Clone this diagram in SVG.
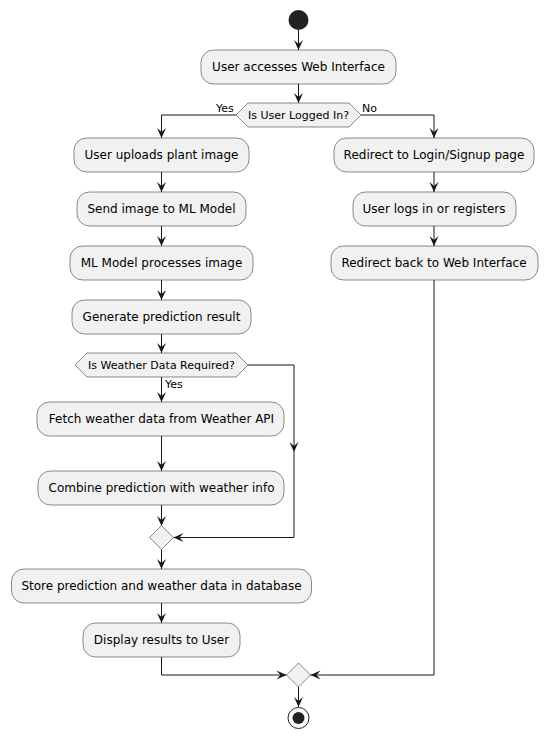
<svg xmlns="http://www.w3.org/2000/svg" width="548" height="739" viewBox="0 0 548 739">
<style>
.box{fill:#F1F1F1;stroke:#181818;stroke-width:0.5}
.t{font-family:"DejaVu Sans",sans-serif;font-size:12px;fill:#000;text-anchor:middle}
.s{font-family:"DejaVu Sans",sans-serif;font-size:11px;fill:#000}
.c{fill:none;stroke:#181818;stroke-width:1}
</style>
<defs>
<marker id="ah" viewBox="-11 -6 12 12" refX="0" refY="0" markerWidth="12" markerHeight="12" markerUnits="userSpaceOnUse" orient="auto">
<path d="M0,0 L-10,-4.5 L-6,0 L-10,4.5 Z" fill="#181818"/>
</marker>
</defs>
<rect width="548" height="739" fill="#FFFFFF"/>
<g id="connectors">
<path class="c" d="M298.5,30 V50" marker-end="url(#ah)"/>
<path class="c" d="M298.5,84 V103" marker-end="url(#ah)"/>
<path class="c" d="M236,115 H161.5 V138" marker-end="url(#ah)"/>
<path class="c" d="M361,115 H434 V138" marker-end="url(#ah)"/>
<path class="c" d="M161.5,172 V192" marker-end="url(#ah)"/>
<path class="c" d="M161.5,226 V246" marker-end="url(#ah)"/>
<path class="c" d="M161.5,280 V300" marker-end="url(#ah)"/>
<path class="c" d="M161.5,334 V353" marker-end="url(#ah)"/>
<path class="c" d="M161.5,377 V402" marker-end="url(#ah)"/>
<path class="c" d="M161.5,436 V471" marker-end="url(#ah)"/>
<path class="c" d="M161.5,505 V526" marker-end="url(#ah)"/>
<path class="c" d="M248,365 H294 V452" marker-end="url(#ah)"/>
<path class="c" d="M294,452 V537.5 H173.5" marker-end="url(#ah)"/>
<path class="c" d="M161.5,549.5 V569" marker-end="url(#ah)"/>
<path class="c" d="M161.5,603 V623" marker-end="url(#ah)"/>
<path class="c" d="M161.5,657 V675 H286.5" marker-end="url(#ah)"/>
<path class="c" d="M434,172 V192" marker-end="url(#ah)"/>
<path class="c" d="M434,226 V246" marker-end="url(#ah)"/>
<path class="c" d="M434,280 V675 H310.5" marker-end="url(#ah)"/>
<path class="c" d="M298.5,687 V707" marker-end="url(#ah)"/>
<text class="s" x="216" y="112">Yes</text>
<text class="s" x="362" y="112">No</text>
<text class="s" x="165" y="388">Yes</text>
</g>
<g id="start"><circle cx="298.5" cy="20" r="10" fill="#222222"/></g>
<g id="access"><rect class="box" x="201" y="50" width="195" height="34" rx="12.5"/><text class="t" x="298.5" y="71">User accesses Web Interface</text></g>
<g id="loggedIn"><polygon class="box" points="236,115 248,103 349,103 361,115 349,127 248,127"/><text class="s" x="298.5" y="119" text-anchor="middle">Is User Logged In?</text></g>
<g id="upload"><rect class="box" x="74" y="138" width="175" height="34" rx="12.5"/><text class="t" x="161.5" y="159">User uploads plant image</text></g>
<g id="send"><rect class="box" x="77" y="192" width="169" height="34" rx="12.5"/><text class="t" x="161.5" y="213">Send image to ML Model</text></g>
<g id="process"><rect class="box" x="70" y="246" width="183" height="34" rx="12.5"/><text class="t" x="161.5" y="267">ML Model processes image</text></g>
<g id="generate"><rect class="box" x="72" y="300" width="179" height="34" rx="12.5"/><text class="t" x="161.5" y="321">Generate prediction result</text></g>
<g id="weatherReq"><polygon class="box" points="75,365 87,353 236,353 248,365 236,377 87,377"/><text class="s" x="161.5" y="369" text-anchor="middle">Is Weather Data Required?</text></g>
<g id="fetch"><rect class="box" x="37" y="402" width="247" height="34" rx="12.5"/><text class="t" x="161.5" y="423">Fetch weather data from Weather API</text></g>
<g id="combine"><rect class="box" x="38" y="471" width="246" height="34" rx="12.5"/><text class="t" x="161.5" y="492">Combine prediction with weather info</text></g>
<g id="merge1"><polygon class="box" points="161.5,525.5 173.5,537.5 161.5,549.5 149.5,537.5"/></g>
<g id="store"><rect class="box" x="11.5" y="569" width="300" height="34" rx="12.5"/><text class="t" x="161.5" y="590">Store prediction and weather data in database</text></g>
<g id="display"><rect class="box" x="83" y="623" width="157" height="34" rx="12.5"/><text class="t" x="161.5" y="644">Display results to User</text></g>
<g id="redirectLogin"><rect class="box" x="334" y="138" width="200" height="34" rx="12.5"/><text class="t" x="434" y="159">Redirect to Login/Signup page</text></g>
<g id="logs"><rect class="box" x="353" y="192" width="163" height="34" rx="12.5"/><text class="t" x="434" y="213">User logs in or registers</text></g>
<g id="redirectBack"><rect class="box" x="331" y="246" width="207" height="34" rx="12.5"/><text class="t" x="434" y="267">Redirect back to Web Interface</text></g>
<g id="merge2"><polygon class="box" points="298.5,663 310.5,675 298.5,687 286.5,675"/></g>
<g id="end"><circle cx="298.5" cy="718" r="10.5" fill="none" stroke="#222222" stroke-width="1"/><circle cx="298.5" cy="718" r="6" fill="#222222"/></g>
</svg>
